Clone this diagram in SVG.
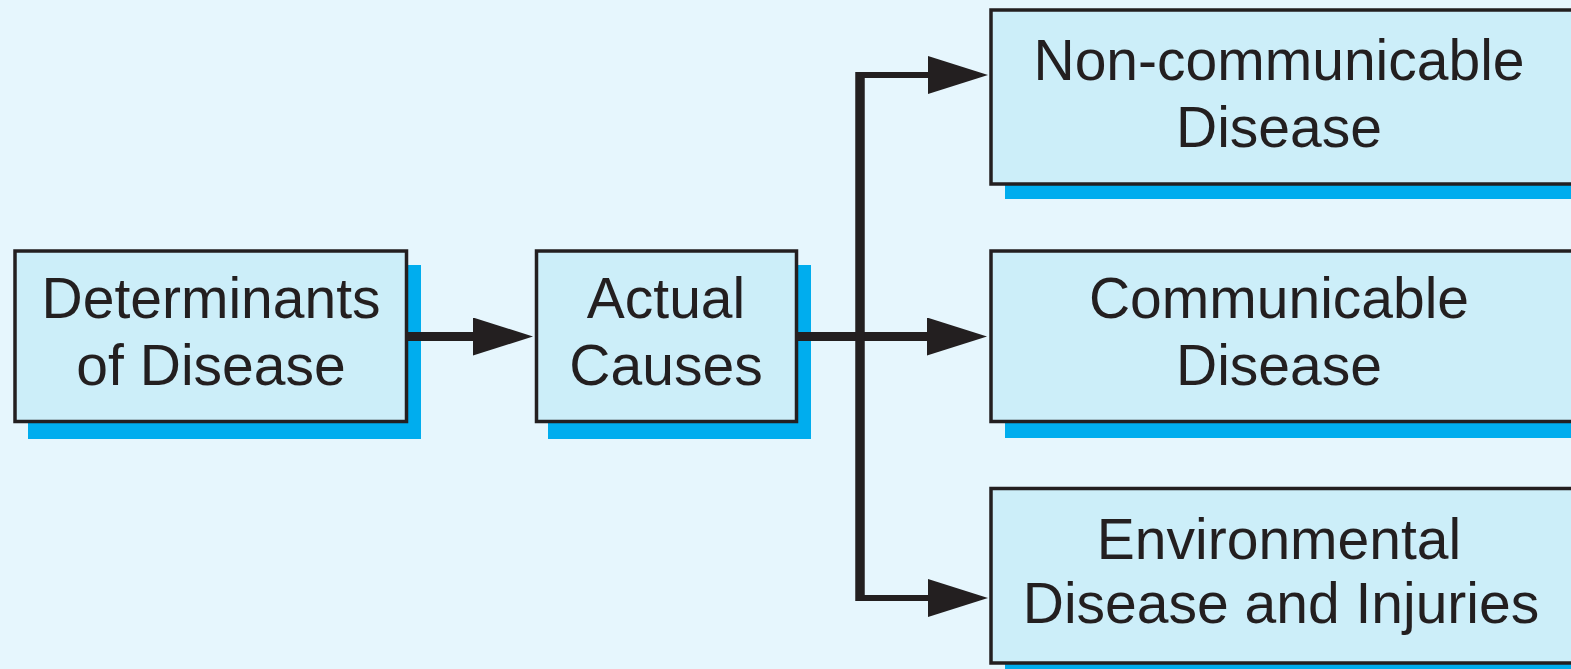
<svg xmlns="http://www.w3.org/2000/svg" width="1571" height="669" viewBox="0 0 1571 669">
<style>
.bg{fill:#E6F6FD}
.shadow{fill:#00ADEE}
.box{fill:#CCEEF9;stroke:#231F20;stroke-width:3.5}
.lbl{font-family:"Liberation Sans",Arial,sans-serif;font-size:57px;fill:#231F20;text-anchor:middle}
.ln{fill:none;stroke:#231F20}
</style>
<defs>
<marker id="ah" markerUnits="userSpaceOnUse" markerWidth="62" markerHeight="40" refX="0" refY="19" orient="auto" viewBox="0 0 62 40">
<path d="M0,0 L60,19 L0,38 z" fill="#231F20"/>
</marker>
</defs>
<rect class="bg" x="0" y="0" width="1571" height="669"/>
<g id="determinants">
<rect class="shadow" x="28" y="265" width="393" height="174"/>
<rect class="box" x="15" y="251" width="391.5" height="170.5"/>
<text class="lbl" x="211" y="318">Determinants</text>
<text class="lbl" x="211" y="385">of Disease</text>
</g>
<g id="actual-causes">
<rect class="shadow" x="548" y="265" width="263" height="174"/>
<rect class="box" x="536.5" y="251" width="260" height="170.5"/>
<text class="lbl" x="666" y="318">Actual</text>
<text class="lbl" x="666" y="385">Causes</text>
</g>
<g id="non-communicable">
<rect class="shadow" x="1005" y="24" width="600" height="175"/>
<rect class="box" x="991" y="10" width="620" height="174"/>
<text class="lbl" x="1279" y="80">Non-communicable</text>
<text class="lbl" x="1279" y="147">Disease</text>
</g>
<g id="communicable">
<rect class="shadow" x="1005" y="264" width="600" height="174"/>
<rect class="box" x="991" y="251" width="620" height="170.5"/>
<text class="lbl" x="1279" y="318">Communicable</text>
<text class="lbl" x="1279" y="385">Disease</text>
</g>
<g id="environmental">
<rect class="shadow" x="1005" y="502" width="600" height="180"/>
<rect class="box" x="991" y="488.5" width="620" height="174.5"/>
<text class="lbl" x="1279" y="559">Environmental</text>
<text class="lbl" x="1281" y="623">Disease and Injuries</text>
</g>
<g id="connectors">
<path class="ln" stroke-width="9" d="M407,336.5 H473" marker-end="url(#ah)"/>
<path class="ln" stroke-width="9" d="M797,336.5 H927" marker-end="url(#ah)"/>
<path class="ln" stroke-width="9.5" d="M860,72 V601"/>
<path class="ln" stroke-width="6" d="M856,75 H928" marker-end="url(#ah)"/>
<path class="ln" stroke-width="6" d="M856,598 H928" marker-end="url(#ah)"/>
</g>
</svg>
